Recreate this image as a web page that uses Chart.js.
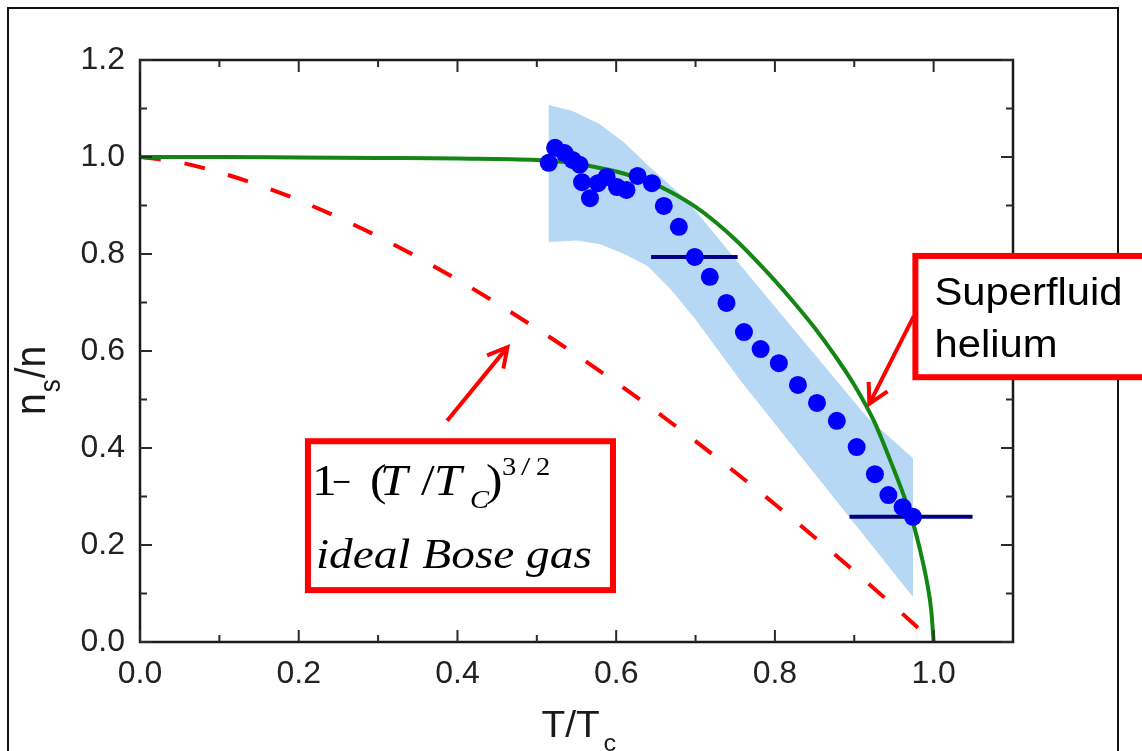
<!DOCTYPE html>
<html>
<head>
<meta charset="utf-8">
<title>Superfluid fraction</title>
<script src="https://cdn.jsdelivr.net/npm/chart.js@4.4.1/dist/chart.umd.min.js"></script>
<style>
  html, body { margin: 0; padding: 0; background: #fff; overflow: hidden; }
  canvas { display: block; }
</style>
</head>
<body>
<canvas id="c" width="1142" height="751"></canvas>
<script>
// Measured superfluid fraction (blue dots)
const dotT  = [0.515, 0.523, 0.535, 0.545, 0.554, 0.557, 0.567, 0.577, 0.588, 0.601, 0.613, 0.627, 0.645, 0.660, 0.679,
               0.699, 0.718, 0.739, 0.761, 0.782, 0.805, 0.829, 0.853, 0.878, 0.903, 0.926, 0.943, 0.961, 0.974];
const dotNs = [0.988, 1.019, 1.008, 0.994, 0.984, 0.948, 0.915, 0.946, 0.959, 0.938, 0.932, 0.961, 0.946, 0.899, 0.856,
               0.794, 0.753, 0.699, 0.639, 0.604, 0.575, 0.530, 0.493, 0.456, 0.402, 0.346, 0.303, 0.278, 0.258];

// Horizontal error bars on two of the points
const errNs = [0.794, 0.258];
const errLo = [0.644, 0.894];
const errHi = [0.753, 1.049];

// Uncertainty band: upper edge (left to right) and lower edge (left to right)
const bandUpT  = [0.515, 0.545, 0.579, 0.610, 0.642, 0.689, 0.740, 0.793, 0.916, 0.974];
const bandUpNs = [1.107, 1.095, 1.068, 1.030, 0.980, 0.911, 0.810, 0.705, 0.464, 0.379];
const bandLoT  = [0.515, 0.550, 0.580, 0.610, 0.640, 0.670, 0.700, 0.756, 0.974];
const bandLoNs = [0.825, 0.828, 0.820, 0.800, 0.775, 0.725, 0.665, 0.540, 0.093];

// Superfluid helium curve (green)
const heT  = [0, 0.1, 0.2, 0.3, 0.4, 0.5, 0.525, 0.55, 0.575, 0.6, 0.625, 0.65, 0.675, 0.7, 0.725, 0.75, 0.775,
              0.8, 0.825, 0.85, 0.875, 0.9, 0.925, 0.95, 0.965, 0.975, 0.985, 0.992, 0.997, 1.0];
const heNs = [1.0, 1.0, 0.999, 0.998, 0.997, 0.994, 0.991, 0.986, 0.979, 0.970, 0.958, 0.943, 0.922, 0.897, 0.866, 0.830, 0.789,
              0.745, 0.698, 0.648, 0.592, 0.530, 0.455, 0.355, 0.290, 0.240, 0.175, 0.120, 0.065, 0.0];

// Ideal Bose gas curve (red dashed)
const boseT  = [0, 0.05, 0.1, 0.15, 0.2, 0.3, 0.4, 0.5, 0.6, 0.7, 0.8, 0.9, 0.95, 1.0];
const boseNs = [1.0, 0.989, 0.968, 0.942, 0.911, 0.836, 0.747, 0.646, 0.535, 0.414, 0.284, 0.146, 0.074, 0.0];

// Axis ticks
const xTicks = [0, 0.2, 0.4, 0.6, 0.8, 1.0];
const xMinor = [0.1, 0.3, 0.5, 0.7, 0.9];
const yTicks = [0, 0.2, 0.4, 0.6, 0.8, 1.0, 1.2];
const yMinor = [0.1, 0.3, 0.5, 0.7, 0.9, 1.1];

const pts = (xs, ys) => xs.map((v, i) => ({ x: v, y: ys[i] }));
const bandPoly = pts(bandUpT, bandUpNs).concat(pts(bandLoT, bandLoNs).reverse());

const SANS = '"Liberation Sans", Arial, Helvetica, sans-serif';
const SERIF = '"Liberation Serif", "Times New Roman", Times, serif';

function txt(ctx, s, x, y, font, sx) {
  ctx.save();
  ctx.font = font;
  ctx.translate(x, y);
  ctx.scale(sx || 1, 1);
  ctx.textAlign = 'left';
  ctx.textBaseline = 'alphabetic';
  ctx.fillText(s, 0, 0);
  ctx.restore();
}

function arrow(ctx, x0, y0, x1, y1) {
  const ang = Math.atan2(y1 - y0, x1 - x0);
  const L = 22, spread = 0.5;
  ctx.beginPath();
  ctx.moveTo(x0, y0);
  ctx.lineTo(x1, y1);
  ctx.moveTo(x1 - L * Math.cos(ang - spread), y1 - L * Math.sin(ang - spread));
  ctx.lineTo(x1, y1);
  ctx.lineTo(x1 - L * Math.cos(ang + spread), y1 - L * Math.sin(ang + spread));
  ctx.stroke();
}

const decorations = {
  id: 'decorations',
  beforeDraw(chart) {
    const ctx = chart.ctx;
    ctx.save();
    ctx.fillStyle = '#fff';
    ctx.fillRect(0, 0, chart.width, chart.height);
    // outer frame
    ctx.strokeStyle = '#111';
    ctx.lineWidth = 2;
    ctx.strokeRect(8, 8, 1110, 800);
    ctx.restore();
  },
  afterDatasetsDraw(chart) {
    const { ctx, chartArea: a, scales: { x, y } } = chart;
    ctx.save();

    // plot frame
    ctx.strokeStyle = '#1a1a1a';
    ctx.lineWidth = 2.5;
    ctx.strokeRect(a.left, a.top, a.right - a.left, a.bottom - a.top);

    // inward tick marks on all four sides
    ctx.lineWidth = 2;
    ctx.strokeStyle = '#2a2a2a';
    const tick = (vals, len) => {
      vals.forEach(v => {
        const px = x.getPixelForValue(v);
        ctx.beginPath();
        ctx.moveTo(px, a.bottom); ctx.lineTo(px, a.bottom - len);
        ctx.moveTo(px, a.top); ctx.lineTo(px, a.top + len);
        ctx.stroke();
      });
    };
    const ytick = (vals, len) => {
      vals.forEach(v => {
        const py = y.getPixelForValue(v);
        ctx.beginPath();
        ctx.moveTo(a.left, py); ctx.lineTo(a.left + len, py);
        ctx.moveTo(a.right, py); ctx.lineTo(a.right - len, py);
        ctx.stroke();
      });
    };
    tick(xTicks, 12); tick(xMinor, 7);
    ytick(yTicks, 12); ytick(yMinor, 7);

    // arrows
    ctx.strokeStyle = '#ff0000';
    ctx.lineWidth = 4;
    ctx.lineJoin = 'miter';
    arrow(ctx, x.getPixelForValue(0.387), y.getPixelForValue(0.456),
               x.getPixelForValue(0.463), y.getPixelForValue(0.608));
    arrow(ctx, x.getPixelForValue(0.975), y.getPixelForValue(0.672),
               x.getPixelForValue(0.919), y.getPixelForValue(0.491));

    // "Superfluid helium" box
    const b1l = x.getPixelForValue(0.977), b1t = y.getPixelForValue(0.796), b1b = y.getPixelForValue(0.546);
    ctx.fillStyle = '#fff';
    ctx.fillRect(b1l, b1t, chart.width + 40 - b1l, b1b - b1t);
    ctx.lineWidth = 6;
    ctx.strokeRect(b1l, b1t, chart.width + 40 - b1l, b1b - b1t);
    ctx.fillStyle = '#000';
    txt(ctx, 'Superfluid', b1l + 19, b1t + 49, '38px ' + SANS, 1.1);
    txt(ctx, 'helium', b1l + 19, b1t + 101, '38px ' + SANS, 1.1);

    // ideal Bose gas box
    const bl = x.getPixelForValue(0.2116), br = x.getPixelForValue(0.596);
    const bt = y.getPixelForValue(0.414), bb = y.getPixelForValue(0.107);
    ctx.fillStyle = '#fff';
    ctx.fillRect(bl, bt, br - bl, bb - bt);
    ctx.strokeStyle = '#ff0000';
    ctx.lineWidth = 6;
    ctx.strokeRect(bl, bt, br - bl, bb - bt);
    ctx.fillStyle = '#000';
    const base = bt + 54;
    const up = '45px ' + SERIF, it = 'italic 45px ' + SERIF;
    const small = '26px ' + SERIF, smallIt = 'italic 26px ' + SERIF;
    txt(ctx, '1', bl + 4, base, up, 1.1);
    txt(ctx, '\u2212', bl + 24, base, '40px ' + SERIF, 0.85);
    txt(ctx, '(', bl + 62, base, up, 1.1);
    txt(ctx, 'T', bl + 72, base, it, 1.1);
    txt(ctx, '/', bl + 113, base, up, 1.1);
    txt(ctx, 'T', bl + 126, base, it, 1.1);
    txt(ctx, 'C', bl + 162, base + 13, smallIt, 1.1);
    txt(ctx, ')', bl + 178, base, up, 1.1);
    txt(ctx, '3', bl + 194, base - 20, small, 1.1);
    txt(ctx, '/', bl + 213, base - 20, small, 1.3);
    txt(ctx, '2', bl + 228, base - 20, small, 1.1);
    txt(ctx, 'ideal Bose gas', bl + 8, bt + 127, 'italic 43px ' + SERIF, 1.1);

    // axis titles
    ctx.fillStyle = '#1a1a1a';
    const cx = (a.left + a.right) / 2;
    txt(ctx, 'T/T', cx - 35, 737, '37px ' + SANS, 1.05);
    txt(ctx, 'c', cx + 27, 751, '24px ' + SANS, 1.05);

    ctx.save();
    ctx.translate(45, (a.top + a.bottom) / 2 + 64);
    ctx.rotate(-Math.PI / 2);
    ctx.scale(1, 1.1);
    ctx.font = '39px ' + SANS;
    const wn = ctx.measureText('n').width;
    ctx.fillText('n', 0, 0);
    ctx.font = '26px ' + SANS;
    const ws = ctx.measureText('s').width;
    ctx.fillText('s', wn + 1, 14);
    ctx.font = '39px ' + SANS;
    ctx.fillText('/n', wn + ws + 2, 0);
    ctx.restore();

    ctx.restore();
  }
};

const tickFont = { family: SANS, size: 32 };

new Chart(document.getElementById('c'), {
  type: 'scatter',
  data: {
    datasets: [
      {
        label: 'measured',
        data: pts(dotT, dotNs),
        pointRadius: 9,
        pointBackgroundColor: '#0000ff',
        pointBorderWidth: 0,
        showLine: false
      },
      {
        label: 'error 1',
        type: 'line',
        data: [{ x: errLo[0], y: errNs[0] }, { x: errHi[0], y: errNs[0] }],
        borderColor: '#000080',
        borderWidth: 4,
        pointRadius: 0,
        fill: false
      },
      {
        label: 'error 2',
        type: 'line',
        data: [{ x: errLo[1], y: errNs[1] }, { x: errHi[1], y: errNs[1] }],
        borderColor: '#000080',
        borderWidth: 4,
        pointRadius: 0,
        fill: false
      },
      {
        label: 'superfluid helium',
        type: 'line',
        data: pts(heT, heNs),
        borderColor: '#138613',
        borderWidth: 4,
        pointRadius: 0,
        cubicInterpolationMode: 'monotone',
        fill: false
      },
      {
        label: 'ideal Bose gas',
        type: 'line',
        data: pts(boseT, boseNs),
        borderColor: '#ff0000',
        borderWidth: 4,
        borderDash: [21, 24],
        pointRadius: 0,
        cubicInterpolationMode: 'monotone',
        fill: false
      },
      {
        label: 'band',
        type: 'line',
        data: bandPoly,
        borderWidth: 0,
        borderColor: 'rgba(0,0,0,0)',
        backgroundColor: '#b7d8f4',
        pointRadius: 0,
        fill: 'shape'
      }
    ]
  },
  options: {
    responsive: false,
    animation: false,
    devicePixelRatio: 1,
    layout: { padding: { left: 0, top: 60, right: 129, bottom: 0 } },
    plugins: { legend: { display: false }, tooltip: { enabled: false } },
    scales: {
      x: {
        type: 'linear',
        min: 0, max: 1.1,
        afterBuildTicks: s => { s.ticks = xTicks.map(v => ({ value: v })); },
        afterFit: s => { s.height = 109; },
        grid: { display: false, drawTicks: false },
        border: { display: false },
        ticks: { padding: 13, color: '#222', font: tickFont, maxRotation: 0, autoSkip: false,
                 callback: v => v.toFixed(1) }
      },
      y: {
        type: 'linear',
        min: 0, max: 1.2,
        afterBuildTicks: s => { s.ticks = yTicks.map(v => ({ value: v })); },
        afterFit: s => { s.width = 140; },
        grid: { display: false, drawTicks: false },
        border: { display: false },
        ticks: { padding: 15, color: '#222', font: tickFont, autoSkip: false,
                 callback: v => v.toFixed(1) }
      }
    }
  },
  plugins: [decorations]
});
</script>
</body>
</html>
